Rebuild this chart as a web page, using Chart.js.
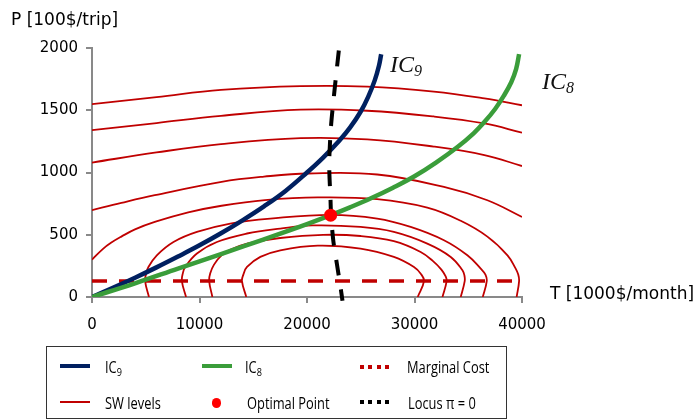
<!DOCTYPE html>
<html><head><meta charset="utf-8">
<script src="https://cdn.jsdelivr.net/npm/chart.js@4.4.1/dist/chart.umd.min.js"></script>
<style>
html,body{margin:0;padding:0;background:#fff;}
#wrap{position:relative;width:697px;height:419px;overflow:hidden;background:#fff;}
#c{position:absolute;left:0;top:0;}
.t{position:absolute;white-space:nowrap;font-family:"DejaVu Sans";color:#000;font-size:17px;line-height:17px;}
.ic{position:absolute;white-space:nowrap;font-family:"Liberation Serif";font-style:italic;font-size:24px;line-height:24px;color:#111;}
.ic span{font-size:16px;position:relative;top:4px;}
#legend{position:absolute;left:46px;top:346px;width:461px;height:73px;border:1.5px solid #333;box-sizing:border-box;}
.li{position:absolute;white-space:nowrap;font-family:"Open Sans";font-size:15.5px;line-height:16px;color:#000;transform:scaleX(0.83);transform-origin:0 50%;}
.li span{font-size:11px;position:relative;top:3px;}
.sym{position:absolute;}
</style>
</head><body>
<div id="wrap">
<canvas id="c" width="697" height="419"></canvas>
<div class="t" style="left:11px;top:11px;">P [100$/trip]</div>
<div class="t" style="left:550px;top:285px;">T [1000$/month]</div>
<div class="ic" style="left:390px;top:52px;">IC<span>9</span></div>
<div class="ic" style="left:542px;top:69px;">IC<span>8</span></div>
<div id="legend"></div>
<div class="sym" style="left:60px;top:363.5px;width:30px;height:4px;background:#002060;"></div>
<div class="li" style="left:105px;top:359px;">IC<span>9</span></div>
<div class="sym" style="left:202px;top:363.5px;width:30px;height:4px;background:#3a9d3a;"></div>
<div class="li" style="left:245px;top:359px;">IC<span>8</span></div>
<div class="sym" style="left:360px;top:364.5px;width:29px;height:4px;background:repeating-linear-gradient(90deg,#c00000 0 4px,transparent 4px 8.3px);"></div>
<div class="li" style="left:407px;top:359px;">Marginal Cost</div>
<div class="sym" style="left:60px;top:401px;width:30px;height:2px;background:#c00000;"></div>
<div class="li" style="left:105px;top:395px;">SW levels</div>
<div class="sym" style="left:211.5px;top:398px;width:9.5px;height:9.5px;border-radius:50%;background:#ff0000;"></div>
<div class="li" style="left:247px;top:395px;">Optimal Point</div>
<div class="sym" style="left:360px;top:400px;width:29px;height:4px;background:repeating-linear-gradient(90deg,#000 0 4px,transparent 4px 8.3px);"></div>
<div class="li" style="left:408px;top:395px;">Locus π = 0</div>
</div>
<script>
// ---- data ----
const xTicks = [0, 10000, 20000, 30000, 40000];
const yTicks = [0, 500, 1000, 1500, 2000];

const ic9T = [0, 2000, 4000, 6000, 8000, 10000, 12000, 14000, 16000, 18000, 20000, 21500, 23000, 24000, 25000, 25700, 26300, 26700, 26900];
const ic9P = [0, 76, 155, 238, 325, 415, 512, 616, 728, 852, 1000, 1120, 1255, 1360, 1490, 1610, 1740, 1860, 1950];

const ic8T = [0, 4000, 8000, 12000, 16000, 20000, 22200, 24000, 26000, 28000, 30000, 32000, 34000, 35500, 36500, 37500, 38300, 39000, 39450, 39730];
const ic8P = [0, 110, 228, 345, 463, 585, 657, 720, 795, 878, 970, 1080, 1205, 1315, 1405, 1510, 1615, 1725, 1830, 1951];

const mcT = [0, 40000];
const mcP = [128, 128];

const optT = [22200];
const optP = [657];

const locusT = [22960, 22560, 22250, 22080, 22080, 22180, 22240, 22450, 22800, 23150, 23300];
const locusP = [1980, 1660, 1390, 1130, 1000, 800, 657, 450, 255, 60, -30];

const sw1T = [0, 6000, 12000, 19400, 25600, 31800, 36500, 40000];
const sw1P = [1549, 1605, 1663, 1694, 1690, 1650, 1595, 1540];
const sw2T = [0, 6000, 12000, 19400, 25600, 31800, 36500, 40000];
const sw2P = [1340, 1397, 1455, 1505, 1496, 1450, 1394, 1320];
const sw3T = [0, 6000, 12000, 19400, 25600, 31800, 36500, 40000];
const sw3P = [1080, 1161, 1228, 1276, 1266, 1208, 1140, 1052];
const sw4T = [0, 2730, 5840, 12050, 16000, 20130, 26530, 32740, 36780, 40000];
const sw4P = [697, 756, 818, 925, 967, 992, 984, 884, 777, 643];
const sw5T = [0, 1000, 1800, 2730, 4000, 5840, 8950, 12050, 16090, 21000, 26530, 31190, 34300, 36780, 38650, 39400, 39650, 39730, 39500];
const sw5P = [300, 385, 437, 485, 543, 603, 680, 733, 778, 800, 786, 718, 612, 485, 335, 230, 180, 128, 0];
const sw6T = [5300, 4940, 5030, 5250, 6030, 7580, 9760, 12860, 16590, 22200, 26530, 29640, 32740, 34920, 36160, 36600, 36720, 36350];
const sw6P = [0, 128, 185, 241, 335, 442, 523, 590, 630, 660, 630, 563, 456, 335, 228, 180, 128, 0];
const sw7T = [8750, 8360, 8450, 8670, 9760, 11620, 14420, 17520, 20500, 24980, 28080, 31190, 33370, 34460, 34640, 34670, 34300];
const sw7P = [0, 128, 190, 241, 349, 442, 510, 550, 575, 563, 523, 429, 322, 215, 175, 128, 0];
const sw8T = [11200, 10900, 11000, 11350, 12000, 12900, 14500, 17500, 21500, 24980, 28080, 30570, 31700, 32500, 32900, 32990, 32600];
const sw8P = [0, 128, 190, 260, 330, 380, 430, 474, 499, 490, 448, 362, 290, 220, 165, 128, 0];
const sw9T = [14350, 13950, 14080, 14420, 15660, 17520, 21000, 24980, 28080, 29950, 30600, 30880, 30300];
const sw9P = [0, 128, 180, 241, 322, 375, 412, 389, 322, 241, 185, 128, 0];

const swT = [sw1T, sw2T, sw3T, sw4T, sw5T, sw6T, sw7T, sw8T, sw9T];
const swP = [sw1P, sw2P, sw3P, sw4P, sw5P, sw6P, sw7P, sw8P, sw9P];

// ---- chart ----
const pts = (xs, ys) => xs.map((x, i) => ({x: x, y: ys[i]}));
const lineDs = (label, xs, ys, color, width, order, extra) => Object.assign({
  label: label, data: pts(xs, ys), showLine: true, borderColor: color, backgroundColor: color,
  borderWidth: width, pointRadius: 0, pointHoverRadius: 0, fill: false, tension: 0.4, order: order
}, extra || {});

const datasets = [
  {label: 'Optimal Point', data: pts(optT, optP), showLine: false, pointRadius: 6.5,
   pointBackgroundColor: '#ff0000', pointBorderWidth: 0, backgroundColor: '#ff0000', order: 0},
  lineDs('Locus π = 0', locusT, locusP, '#000000', 4, 1, {borderDash: [16, 14], clip: 6, tension: 0.3}),
  lineDs('IC8', ic8T, ic8P, '#3a9d3a', 4.5, 2),
  lineDs('IC9', ic9T, ic9P, '#002060', 4.5, 3),
  lineDs('Marginal Cost', mcT, mcP, '#c00000', 3.5, 4, {borderDash: [15, 12], tension: 0})
];
swT.forEach((xs, i) => datasets.push(lineDs('SW levels', xs, swP[i], '#c00000', 1.8, 5)));

const axisColor = '#898989';
new Chart(document.getElementById('c'), {
  type: 'scatter',
  data: {datasets: datasets},
  options: {
    responsive: false, animation: false, devicePixelRatio: 1,
    layout: {padding: {top: 48, right: 175, left: 0, bottom: 0}},
    plugins: {legend: {display: false}, tooltip: {enabled: false}},
    scales: {
      x: {
        type: 'linear', min: 0, max: 40000,
        afterFit: s => { s.height = 122; },
        afterBuildTicks: s => { s.ticks = xTicks.map(v => ({value: v})); },
        ticks: {callback: v => String(v), color: '#000', padding: 13,
                font: {family: 'DejaVu Sans', size: 15}, maxRotation: 0},
        grid: {drawOnChartArea: false, drawTicks: true, tickLength: 6, color: axisColor, lineWidth: 2},
        border: {display: true, color: axisColor, width: 2}
      },
      y: {
        type: 'linear', min: 0, max: 2000,
        afterFit: s => { s.width = 92; },
        afterBuildTicks: s => { s.ticks = yTicks.map(v => ({value: v})); },
        ticks: {callback: v => String(v), color: '#000', padding: 8,
                font: {family: 'DejaVu Sans', size: 15}},
        grid: {drawOnChartArea: false, drawTicks: true, tickLength: 6, color: axisColor, lineWidth: 2},
        border: {display: true, color: axisColor, width: 2}
      }
    }
  }
});
</script>
</body></html>
